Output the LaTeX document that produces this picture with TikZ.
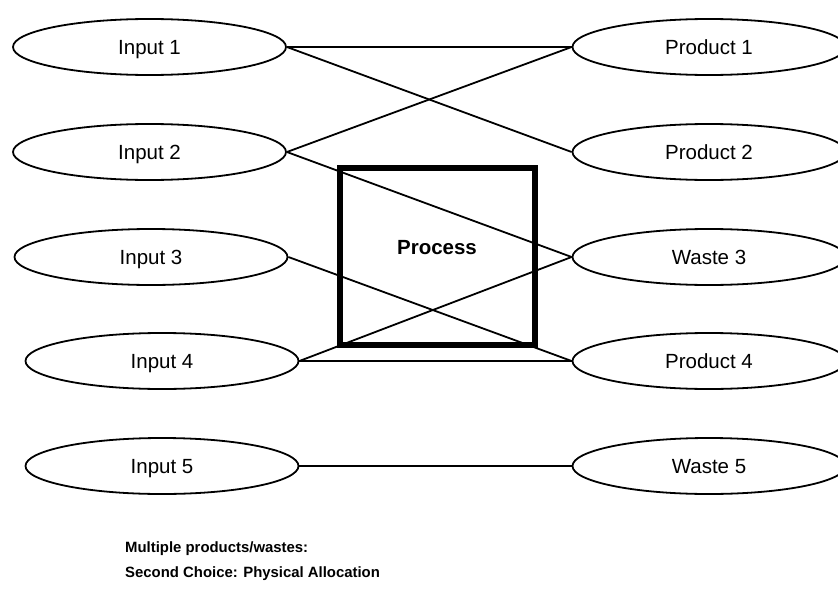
\documentclass[tikz,border=0pt]{standalone}
\usepackage{fontspec}
\setmainfont{Liberation Sans}
\usetikzlibrary{shapes.geometric}
\tikzset{
  flow/.style={ellipse, draw, line width=1.8pt, minimum width=273pt, minimum height=56pt,
    inner sep=0pt, text height=14.7pt, text depth=0pt, font=\fontsize{20.5}{24}\selectfont},
  link/.style={line width=1.8pt},
  procbox/.style={draw, line width=6pt},
  caption/.style={anchor=base west, inner sep=0pt, font=\fontsize{14.9}{17}\selectfont\bfseries}
}
\begin{document}
\begin{tikzpicture}[x=1pt,y=-1pt]
\useasboundingbox (0,0) rectangle (838,605);
\clip (0,0) rectangle (838,605);
% inputs
\node[flow] (in1) at (149.5,47) {Input 1};
\node[flow] (in2) at (149.5,152) {Input 2};
\node[flow] (in3) at (151,257) {Input 3};
\node[flow] (in4) at (162,361) {Input 4};
\node[flow] (in5) at (162,466) {Input 5};
% outputs
\node[flow] (out1) at (709,47) {Product 1};
\node[flow] (out2) at (709,152) {Product 2};
\node[flow] (out3) at (709,257) {Waste 3};
\node[flow] (out4) at (709,361) {Product 4};
\node[flow] (out5) at (709,466) {Waste 5};
% process
\draw[procbox] (340,168) rectangle (534.5,344.5);
\node[font=\fontsize{20.5}{24}\selectfont\bfseries] (proc) at (437,248) {Process};
% links
\draw[link] (in1.east) -- (out1.west);
\draw[link] (in1.east) -- (out2.west);
\draw[link] (in2.east) -- (out1.west);
\draw[link] (in2.east) -- (out3.west);
\draw[link] (in3.east) -- (out4.west);
\draw[link] (in4.east) -- (out3.west);
\draw[link] (in4.east) -- (out4.west);
\draw[link] (in5.east) -- (out5.west);
% caption
\node[caption] (cap1) at (125,552) {Multiple products/wastes:};
\node[caption] (cap2) at (125,577) {Second Choice: Physical Allocation};
\end{tikzpicture}
\end{document}
